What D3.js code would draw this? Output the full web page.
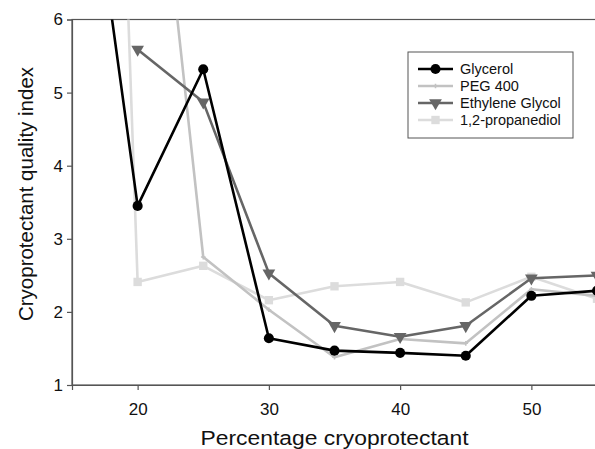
<!DOCTYPE html>
<html>
<head>
<meta charset="utf-8">
<script src="https://cdn.jsdelivr.net/npm/d3@7"></script>
<style>
  body { margin: 0; background: #fff; }
  svg { display: block; font-family: "Liberation Sans", Arial, sans-serif; }
</style>
</head>
<body>
<div class="wrapper"></div>
<script>
// percentage of cryoprotectant
const percents = [15, 20, 25, 30, 35, 40, 45, 50, 55];
// quality index per cryoprotectant (null = not measured / not shown)
const glycerol    = [10.0, 3.45, 5.32, 1.64, 1.47, 1.44, 1.40, 2.22, 2.29];
const peg400      = [null, 11.0, 2.75, 2.03, 1.38, 1.63, 1.57, 2.31, 2.22];
const ethylene    = [null, 5.59, 4.87, 2.53, 1.81, 1.66, 1.81, 2.46, 2.50];
const propanediol = [28.0, 2.41, 2.63, 2.16, 2.35, 2.41, 2.13, 2.48, 2.18];
const xTicks = [20, 30, 40, 50];
const yTicks = [1, 2, 3, 4, 5, 6];

const width = 595, height = 449;
const margin = {left: 72, top: 19.5, right: -2, bottom: 64};

const svg = d3.select(".wrapper").append("svg")
  .attr("width", width)
  .attr("height", height);

const x = d3.scaleLinear().domain([15, 55]).range([margin.left, width - margin.right]);
const y = d3.scaleLinear().domain([1, 6]).range([height - margin.bottom, margin.top]);

svg.append("defs").append("clipPath").attr("id", "plot")
  .append("rect")
  .attr("x", margin.left).attr("y", margin.top)
  .attr("width", x.range()[1] - margin.left)
  .attr("height", y(1) - margin.top);

// frame
svg.append("rect")
  .attr("x", margin.left).attr("y", margin.top)
  .attr("width", x.range()[1] - margin.left)
  .attr("height", y(1) - margin.top)
  .attr("fill", "none")
  .attr("stroke", "#555")
  .attr("stroke-width", 1.2);

const xAxis = svg.append("g")
  .attr("transform", "translate(0," + y(1) + ")")
  .call(d3.axisBottom(x).tickValues(xTicks).tickSize(5).tickPadding(13));
const yAxis = svg.append("g")
  .attr("transform", "translate(" + margin.left + ",0)")
  .call(d3.axisLeft(y).tickValues(yTicks).tickFormat(d3.format("d")).tickSize(5).tickPadding(4));
[xAxis, yAxis].forEach(g => {
  g.select(".domain").attr("stroke", "#555").attr("stroke-width", 1.2);
  g.selectAll(".tick line").attr("stroke", "#555").attr("stroke-width", 1.2);
  g.selectAll("text").attr("font-size", 17).attr("fill", "#111")
    .style("font-family", "'Liberation Sans', Arial, sans-serif");
});

svg.append("text")
  .attr("x", (margin.left + x.range()[1]) / 2)
  .attr("y", 445)
  .attr("text-anchor", "middle")
  .attr("font-size", 20.5)
  .attr("textLength", 268)
  .attr("lengthAdjust", "spacingAndGlyphs")
  .attr("fill", "#111")
  .text("Percentage cryoprotectant");

svg.append("text")
  .attr("transform", "translate(33,194) rotate(-90)")
  .attr("text-anchor", "middle")
  .attr("font-size", 20.5)
  .attr("fill", "#111")
  .text("Cryoprotectant quality index");

const series = [
  {name: "Glycerol", values: glycerol, color: "#000", symbol: d3.symbolCircle, size: 80},
  {name: "PEG 400", values: peg400, color: "#c2c2c2", symbol: d3.symbolCross, size: 12},
  {name: "Ethylene Glycol", values: ethylene, color: "#666", symbol: d3.symbolTriangle, size: 70, rotate: 180},
  {name: "1,2-propanediol", values: propanediol, color: "#dcdcdc", symbol: d3.symbolSquare, size: 70}
];

const line = d3.line()
  .defined(d => d[1] != null)
  .x(d => x(d[0]))
  .y(d => y(d[1]));

const plot = svg.append("g").attr("clip-path", "url(#plot)");

// draw from lightest to darkest so the black series sits on top
[3, 1, 2, 0].forEach(i => {
  const s = series[i];
  const pts = percents.map((p, j) => [p, s.values[j]]);
  plot.append("path")
    .datum(pts)
    .attr("fill", "none")
    .attr("stroke", s.color)
    .attr("stroke-width", 2.6)
    .attr("stroke-linejoin", "round")
    .attr("d", line);
  plot.selectAll(null)
    .data(pts.filter(d => d[1] != null && d[1] <= 6))
    .join("path")
    .attr("d", d3.symbol().type(s.symbol).size(s.size))
    .attr("transform", d => "translate(" + x(d[0]) + "," + y(d[1]) + ")" + (s.rotate ? " rotate(" + s.rotate + ")" : ""))
    .attr("fill", s.color);
});

// legend
const legend = svg.append("g").attr("transform", "translate(408,52)");
legend.append("rect")
  .attr("width", 165).attr("height", 86)
  .attr("fill", "#fff")
  .attr("stroke", "#555")
  .attr("stroke-width", 1);
series.forEach((s, i) => {
  const g = legend.append("g").attr("transform", "translate(0," + (17 + i * 17) + ")");
  g.append("line")
    .attr("x1", 10).attr("x2", 45)
    .attr("stroke", s.color).attr("stroke-width", 2.6);
  g.append("path")
    .attr("d", d3.symbol().type(s.symbol).size(s.size))
    .attr("transform", "translate(27.5,0)" + (s.rotate ? " rotate(" + s.rotate + ")" : ""))
    .attr("fill", s.color);
  g.append("text")
    .attr("x", 52).attr("dy", "0.35em")
    .attr("font-size", 14.5)
    .attr("fill", "#111")
    .text(s.name);
});
</script>
</body>
</html>
